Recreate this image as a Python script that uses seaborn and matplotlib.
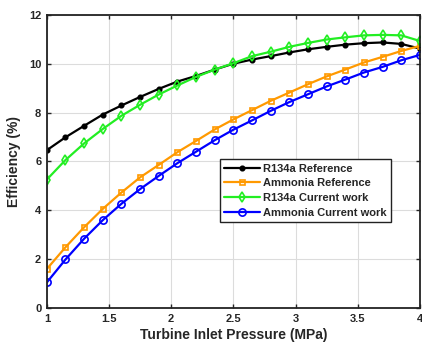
import matplotlib
matplotlib.use("Agg")
import matplotlib.pyplot as plt
import seaborn as sns
import pandas as pd

# Data
pressure = [1.0, 1.15, 1.3, 1.45, 1.6, 1.75, 1.9, 2.05, 2.2, 2.35, 2.5,
            2.65, 2.8, 2.95, 3.1, 3.25, 3.4, 3.55, 3.7, 3.85, 4.0]
r134a_ref = [6.46, 6.99, 7.46, 7.92, 8.29, 8.64, 8.97, 9.27, 9.50, 9.76, 10.00,
             10.17, 10.31, 10.46, 10.59, 10.69, 10.78, 10.84, 10.87, 10.81, 10.62]
ammonia_ref = [1.60, 2.49, 3.31, 4.06, 4.73, 5.35, 5.86, 6.38, 6.84, 7.31, 7.72,
               8.10, 8.48, 8.82, 9.16, 9.48, 9.76, 10.05, 10.28, 10.52, 10.73]
r134a_cur = [5.26, 6.06, 6.74, 7.33, 7.87, 8.32, 8.74, 9.11, 9.46, 9.76, 10.02,
             10.31, 10.49, 10.69, 10.85, 10.99, 11.08, 11.16, 11.18, 11.16, 10.93]
ammonia_cur = [1.05, 1.99, 2.84, 3.60, 4.27, 4.87, 5.41, 5.93, 6.40, 6.87, 7.30,
               7.68, 8.07, 8.43, 8.75, 9.07, 9.35, 9.64, 9.87, 10.14, 10.36]

labels = ["R134a Reference", "Ammonia Reference", "R134a Current work", "Ammonia Current work"]
series = [r134a_ref, ammonia_ref, r134a_cur, ammonia_cur]
colors = ["#000000", "#FF9900", "#22EE22", "#0000FF"]
markers = ["o", "s", "d", "o"]
msizes = [3.2, 3.6, 4.6, 5.2]
mfcs = ["#000000", "none", "none", "none"]

sns.set_theme(style="ticks")
plt.rcParams["font.family"] = ["Liberation Sans", "DejaVu Sans"]
plt.rcParams["font.weight"] = "bold"

fig = plt.figure(figsize=(4.22, 3.45), dpi=100)
ax = fig.add_axes([0.111, 0.107, 0.884, 0.850])

for lab, vals, c, m, ms, mfc in zip(labels, series, colors, markers, msizes, mfcs):
    df = pd.DataFrame({"p": pressure, "eff": vals})
    sns.lineplot(data=df, x="p", y="eff", ax=ax, color=c, marker=m, markersize=ms,
                 markerfacecolor=mfc, markeredgecolor=c, markeredgewidth=1.2,
                 linewidth=1.6, label=lab)

ax.set_xlim(1, 4)
ax.set_ylim(0, 12)
ax.set_xticks([1, 1.5, 2, 2.5, 3, 3.5, 4])
ax.set_xticklabels(["1", "1.5", "2", "2.5", "3", "3.5", "4"])
ax.set_yticks([0, 2, 4, 6, 8, 10, 12])
ax.grid(True, color="#dcdcdc", linewidth=0.8)
ax.set_axisbelow(True)
ax.tick_params(direction="in", top=True, right=True, labelsize=8, length=3, width=1, pad=4)
for lbl in ax.get_xticklabels() + ax.get_yticklabels():
    lbl.set_fontweight("bold")
for sp in ax.spines.values():
    sp.set_linewidth(1.3)
    sp.set_color("#222222")

ax.set_xlabel("Turbine Inlet Pressure (MPa)", fontsize=10, fontweight="bold", labelpad=3)
ax.set_ylabel("Efficiency (%)", fontsize=10, fontweight="bold", labelpad=6)

leg = ax.legend(loc="upper left", bbox_to_anchor=(0.464, 0.508), borderaxespad=0,
                fancybox=False, framealpha=1, edgecolor="#222222",
                prop={"size": 8, "weight": "bold"}, handlelength=3.2,
                handletextpad=0.3, labelspacing=0.42, borderpad=0.4)
leg.get_frame().set_linewidth(1.0)

fig.savefig("out.png", dpi=100)
